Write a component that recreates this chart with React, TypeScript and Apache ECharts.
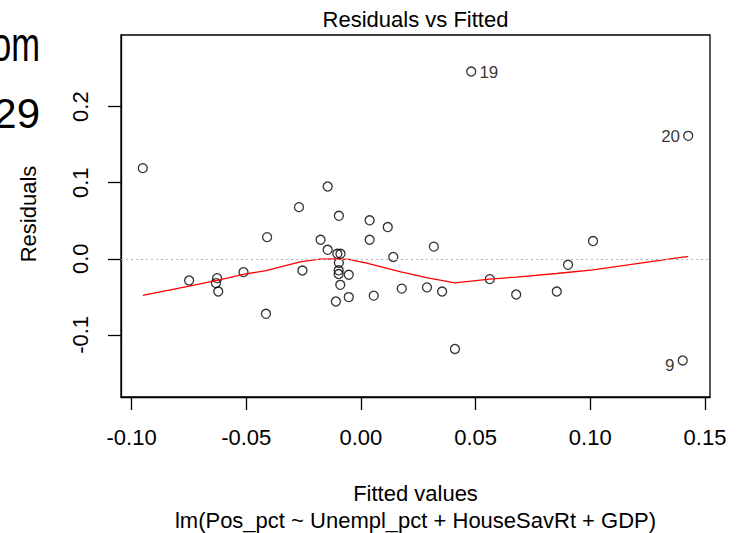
import React, { useEffect, useRef } from "react";
import * as echarts from "echarts";

// Residuals vs Fitted — unlabeled observations
const fittedValues = [
  -0.0951, -0.0749, -0.0627, -0.0632, -0.0622, -0.0512, -0.0409, -0.0414, -0.027, -0.0255,
  -0.0145, -0.0096, -0.0176, -0.0145, -0.0103, -0.0089, -0.0096, -0.0097, -0.0097, -0.0053,
  -0.009, -0.0109, -0.0053, 0.0038, 0.0038, 0.0117, 0.0141, 0.0056, 0.0178, 0.0318,
  0.0288, 0.0354, 0.041, 0.0562, 0.0677, 0.0854, 0.0903, 0.1012,
];
const residualValues = [
  0.1192, -0.0285, -0.0254, -0.0319, -0.043, -0.0175, 0.0285, -0.0723, 0.0679, -0.0154,
  0.095, 0.0565, 0.025, 0.0118, 0.0066, 0.0066, -0.0053, -0.0151, -0.02, -0.021,
  -0.0342, -0.0561, -0.0503, 0.0506, 0.025, 0.0417, 0.0024, -0.0484, -0.0392, 0.016,
  -0.0375, -0.043, -0.1185, -0.0267, -0.0469, -0.043, -0.0079, 0.0233,
];

// Labelled (extreme) observations
const idFitted = [0.0481, 0.1427, 0.1403];
const idResidual = [0.2461, 0.1616, -0.1336];
const idNames = ["19", "20", "9"];
const idSides = ["right", "left", "left"];

// Smoother (red line)
const smoothFitted = [
  -0.0951, -0.0749, -0.0627, -0.0512, -0.0414, -0.0265, -0.0178, -0.011, -0.0053, 0.0025,
  0.017, 0.0286, 0.041, 0.0561, 0.0677, 0.0853, 0.1012, 0.1403, 0.1427,
];
const smoothResidual = [
  -0.0482, -0.0359, -0.0284, -0.0205, -0.0154, -0.0039, -0.0004, 0.0, -0.0008, -0.0057,
  -0.0167, -0.0246, -0.0315, -0.0267, -0.024, -0.0193, -0.0145, 0.0022, 0.003,
];

const xTicks = [-0.1, -0.05, 0, 0.05, 0.1, 0.15];
const yTicks = [-0.1, 0, 0.1, 0.2];
const xRange = [-0.1046, 0.1522];
const yRange = [-0.1816, 0.2941];

const FONT = '"Liberation Sans", Arial, Helvetica, sans-serif';

export default function App() {
  const ref = useRef<HTMLDivElement>(null);

  useEffect(() => {
    if (!ref.current) return;
    const chart = echarts.init(ref.current, null, { renderer: "svg" });

    const points = fittedValues.map((x, i) => [x, residualValues[i]]);
    const idPoints = idFitted.map((x, i) => ({
      value: [x, idResidual[i]],
      label: {
        show: true,
        formatter: idNames[i],
        position: idSides[i],
        distance: 3,
        offset: idNames[i] === "9" ? [0, 5] : [0, 1],
        fontSize: 17,
        fontFamily: FONT,
        color: "#000",
      },
    }));
    const smooth = smoothFitted.map((x, i) => [x, smoothResidual[i]]);

    const markerStyle = {
      color: "rgba(0,0,0,0)",
      borderColor: "#000",
      borderWidth: 1.3,
    };

    chart.setOption({
      animation: false,
      backgroundColor: "#fff",
      textStyle: { fontFamily: FONT },
      grid: {
        left: 121,
        top: 35,
        width: 589,
        height: 362,
        show: true,
        borderColor: "#000",
        borderWidth: 1.3,
        backgroundColor: "transparent",
      },
      xAxis: {
        type: "value",
        min: xRange[0],
        max: xRange[1],
        axisLine: { show: true, onZero: false, lineStyle: { color: "#000", width: 1.3 } },
        splitLine: { show: false },
        axisTick: {
          show: true,
          customValues: xTicks,
          length: 13,
          lineStyle: { color: "#000", width: 1.3 },
        },
        axisLabel: {
          customValues: xTicks,
          formatter: (v: number) => v.toFixed(2),
          margin: 29,
          fontSize: 22,
          color: "#000",
          fontFamily: FONT,
        },
      },
      yAxis: {
        type: "value",
        min: yRange[0],
        max: yRange[1],
        axisLine: { show: true, onZero: false, lineStyle: { color: "#000", width: 1.3 } },
        splitLine: { show: false },
        axisTick: {
          show: true,
          customValues: yTicks,
          length: 13,
          lineStyle: { color: "#000", width: 1.3 },
        },
        axisLabel: {
          customValues: yTicks,
          formatter: (v: number) => v.toFixed(1),
          rotate: 90,
          margin: 30,
          fontSize: 22,
          color: "#000",
          fontFamily: FONT,
        },
      },
      series: [
        {
          type: "scatter",
          data: points,
          symbol: "circle",
          symbolSize: 9,
          itemStyle: markerStyle,
          z: 2,
        },
        {
          type: "scatter",
          data: idPoints,
          symbol: "circle",
          symbolSize: 9,
          itemStyle: markerStyle,
          z: 2,
        },
        {
          type: "line",
          data: smooth,
          symbol: "none",
          lineStyle: { color: "#ff0000", width: 1.3 },
          z: 3,
          markLine: {
            silent: true,
            symbol: ["none", "none"],
            label: { show: false },
            lineStyle: { color: "#b4b4b4", type: [2, 3], width: 1.2 },
            data: [{ yAxis: 0 }],
            z: 4,
          },
        },
      ],
      graphic: [
        {
          type: "text",
          x: 415.5,
          y: 19,
          style: {
            text: "Residuals vs Fitted",
            fontSize: 22,
            fontFamily: FONT,
            fill: "#000",
            align: "center",
            verticalAlign: "middle",
          },
        },
        {
          type: "text",
          x: 415.5,
          y: 493,
          style: {
            text: "Fitted values",
            fontSize: 22,
            fontFamily: FONT,
            fill: "#000",
            align: "center",
            verticalAlign: "middle",
          },
        },
        {
          type: "text",
          x: 415.5,
          y: 520,
          style: {
            text: "lm(Pos_pct ~ Unempl_pct + HouseSavRt + GDP)",
            fontSize: 22,
            fontFamily: FONT,
            fill: "#000",
            align: "center",
            verticalAlign: "middle",
          },
        },
        {
          type: "text",
          x: 28,
          y: 214,
          rotation: Math.PI / 2,
          style: {
            text: "Residuals",
            fontSize: 22,
            fontFamily: FONT,
            fill: "#000",
            align: "center",
            verticalAlign: "middle",
          },
        },
        {
          type: "text",
          x: 40,
          y: 44,
          scaleX: 0.72,
          style: {
            text: "om",
            fontSize: 48,
            fontFamily: FONT,
            fill: "#000",
            align: "right",
            verticalAlign: "middle",
          },
        },
        {
          type: "text",
          x: 40,
          y: 113,
          style: {
            text: "29",
            fontSize: 42,
            fontFamily: FONT,
            fill: "#000",
            align: "right",
            verticalAlign: "middle",
          },
        },
      ],
    });

    return () => chart.dispose();
  }, []);

  return (
    <div
      ref={ref}
      style={{ position: "fixed", left: 0, top: 0, width: 742, height: 533 }}
    />
  );
}
